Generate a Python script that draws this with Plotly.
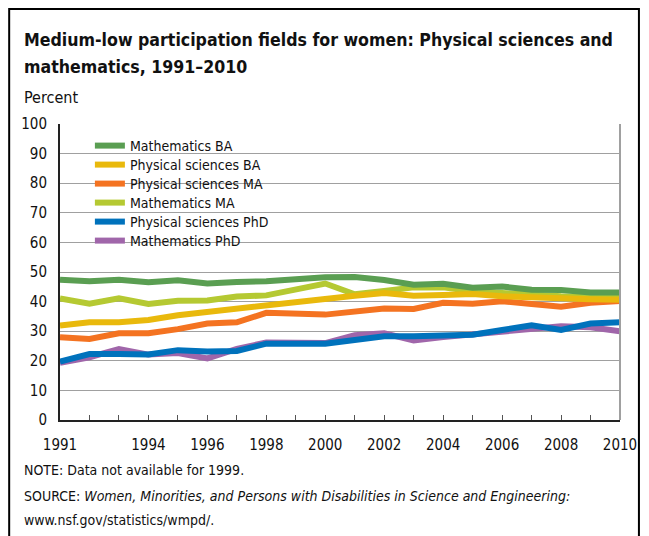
import plotly.graph_objects as go

# Women's share of degrees, percent (no data for 1999)
years = [1991, 1992, 1993, 1994, 1995, 1996, 1997, 1998,
         2000, 2001, 2002, 2003, 2004, 2005, 2006, 2007, 2008, 2009, 2010]

math_ba = [47.4, 46.9, 47.4, 46.5, 47.2, 46.1, 46.6, 46.9,
           48.2, 48.3, 47.3, 45.7, 46.0, 44.7, 45.1, 44.0, 43.9, 43.1, 43.1]
phys_ba = [31.9, 33.0, 33.0, 33.8, 35.4, 36.5, 38.1, 39.0,
           40.9, 42.0, 42.9, 42.0, 42.2, 42.6, 41.8, 41.3, 41.0, 40.8, 40.6]
phys_ma = [28.0, 27.4, 29.3, 29.3, 30.7, 32.6, 33.0, 36.2,
           35.6, 36.9, 37.7, 37.5, 39.6, 39.3, 40.1, 39.2, 38.3, 39.6, 40.2]
math_ma = [41.1, 39.3, 41.1, 39.2, 40.3, 40.4, 41.7, 42.1,
           46.1, 42.5, 43.6, 44.8, 44.8, 43.5, 42.9, 42.2, 41.8, 41.5, 41.2]
phys_phd = [19.7, 22.3, 22.3, 22.1, 23.6, 23.1, 23.3, 25.8,
            25.8, 27.2, 28.3, 28.3, 28.3, 28.8, 30.4, 32.0, 30.4, 32.6, 33.0]
math_phd = [19.3, 21.2, 24.0, 22.1, 22.6, 20.8, 24.0, 26.2,
            26.0, 28.6, 29.3, 26.9, 28.0, 28.8, 30.0, 30.9, 31.7, 31.3, 30.0]

tick_years = list(range(1991, 2011))
label_years = [1991, 1994, 1996, 1998, 2000, 2002, 2004, 2006, 2008, 2010]

title_lines = ["Medium-low participation fields for women: Physical sciences and",
               "mathematics, 1991\u20132010"]

FONT = "Liberation Sans Narrow, DejaVu Sans Condensed, Arial Narrow, sans-serif"

# the page has an 8px body margin, so the figure is 8px smaller than the window
OFF = 8
W, H = 649 - OFF, 536 - OFF
# plot area in page pixels: x 60..622, y 124..420
L, R, T, B = 60, 622, 124, 420
def px(x):
    return (x - L) / (R - L)
def py(y):
    return (B - y) / (B - T)

# drawn bottom-up so the stacking matches the original
series = [
    ("Mathematics PhD", math_phd, "#a066aa"),
    ("Physical sciences PhD", phys_phd, "#0072bc"),
    ("Mathematics MA", math_ma, "#b5c932"),
    ("Physical sciences MA", phys_ma, "#f47321"),
    ("Physical sciences BA", phys_ba, "#e9b90c"),
    ("Mathematics BA", math_ba, "#5a9e52"),
]

fig = go.Figure()
legends = {}
for i, (name, vals, col) in enumerate(series):
    slot = len(series) - 1 - i          # 0 = top row of the legend
    key = "legend" if slot == 0 else f"legend{slot + 1}"
    fig.add_trace(go.Scatter(x=years, y=vals, mode="lines", name=name, legend=key,
                             line=dict(color=col, width=6)))
    legends[key] = dict(x=px(90), y=py(130 + 19 * slot), xanchor="left", yanchor="top",
                        bgcolor="rgba(0,0,0,0)", font=dict(size=14, color="#111"),
                        itemwidth=30)

notes = [
    ("NOTE: Data not available for 1999.", 470),
    ("SOURCE: <i>Women, Minorities, and Persons with Disabilities in Science and Engineering:</i>", 496),
    ("www.nsf.gov/statistics/wmpd/.", 520),
]

annotations = []
for line, yc in zip(title_lines, [40, 67]):
    annotations.append(dict(text=line, x=px(22), y=py(yc), xref="paper", yref="paper",
                            xanchor="left", yanchor="middle", showarrow=False,
                            font=dict(size=17.6, color="#111", weight="bold")))
annotations.append(dict(text="Percent", x=px(22), y=py(97), xref="paper", yref="paper",
                        xanchor="left", yanchor="middle", showarrow=False,
                        font=dict(size=16, color="#111")))
for text, yc in notes:
    annotations.append(dict(text=text, x=px(22), y=py(yc), xref="paper", yref="paper",
                            xanchor="left", yanchor="middle", showarrow=False,
                            font=dict(size=14, color="#111")))

fig.update_layout(
    width=W, height=H,
    margin=dict(l=L - OFF, r=W - (R - OFF), t=T - OFF, b=H - (B - OFF)),
    paper_bgcolor="white", plot_bgcolor="white",
    font=dict(family=FONT, size=15, color="#111"),
    showlegend=True,
    xaxis=dict(range=[1991, 2010], tickvals=tick_years,
               ticktext=[str(y) if y in label_years else "" for y in tick_years],
               ticks="inside", ticklen=5, tickcolor="#555", showgrid=False,
               showline=True, linecolor="#222", linewidth=2, zeroline=False,
               ticklabelstandoff=10, tickfont=dict(size=15)),
    yaxis=dict(range=[0, 100], dtick=10, showgrid=True, gridcolor="#a0a0a0", gridwidth=1,
               showline=True, linecolor="#222", linewidth=2, zeroline=False,
               ticks="", ticklabelstandoff=8, tickfont=dict(size=15)),
    annotations=annotations,
    shapes=[
        # white patch behind the legend, over the gridlines
        dict(type="rect", xref="paper", yref="paper", x0=px(92), x1=px(268), y0=py(252), y1=py(136),
             fillcolor="white", line=dict(width=0), layer="between"),
        # right edge of plot
        dict(type="line", xref="paper", yref="paper", x0=1, x1=1, y0=0, y1=1,
             line=dict(color="#a0a0a0", width=2)),
        # outer frame
        dict(type="rect", xref="paper", yref="paper", x0=px(9), x1=px(641), y0=py(560), y1=py(9),
             line=dict(color="black", width=2), layer="above"),
    ],
)
fig.update_layout(**legends)

fig.write_html("out.html")
